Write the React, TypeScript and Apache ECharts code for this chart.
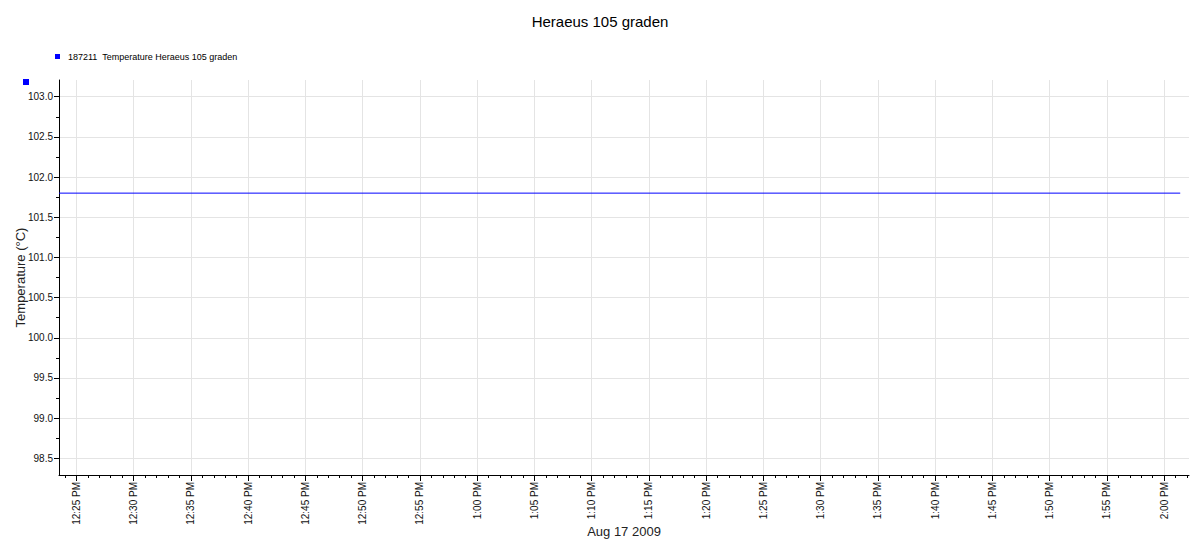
import React, { useEffect, useRef } from "react";
import * as echarts from "echarts";

// Data (time of day, PM), values in °C
const times = ["12:23:29", "14:01:24"];
const temps = [101.8, 101.8];
const seriesName = "187211  Temperature Heraeus 105 graden";

// Tick values
const xMajorLabels = ["12:25", "12:30", "12:35", "12:40", "12:45", "12:50", "12:55", "13:00", "13:05", "13:10", "13:15", "13:20", "13:25", "13:30", "13:35", "13:40", "13:45", "13:50", "13:55", "14:00"];
const yMajorTicks = [98.5, 99.0, 99.5, 100.0, 100.5, 101.0, 101.5, 102.0, 102.5, 103.0];
const yMinorTicks = [98.75, 99.25, 99.75, 100.25, 100.75, 101.25, 101.75, 102.25, 102.75];
const xAxisStart = "12:23:29";
const xAxisEnd = "14:02:10";
const yMin = 98.292;
const yMax = 103.208;

// minutes after 12:00
const toMin = (s: string) => {
  const p = s.split(":").map(Number);
  return (p[0] - 12) * 60 + p[1] + (p[2] || 0) / 60;
};
const fmt = (m: number) => {
  const total = Math.round(m);
  let h = 12 + Math.floor(total / 60);
  const mm = total % 60;
  if (h > 12) h -= 12;
  return `${h}:${mm < 10 ? "0" + mm : mm} PM`;
};

export default function App() {
  const ref = useRef<HTMLDivElement>(null);
  useEffect(() => {
    if (!ref.current) return;
    const chart = echarts.init(ref.current, null, { renderer: "svg" });
    const xMajor = xMajorLabels.map(toMin);
    const xMin = toMin(xAxisStart);
    const xMax = toMin(xAxisEnd);
    const xMinor: number[] = [];
    for (let m = Math.ceil(xMin); m <= xMax; m++) {
      if (!xMajor.includes(m)) xMinor.push(m);
    }
    const font = "'Liberation Sans', Arial, sans-serif";
    chart.setOption({
      animation: false,
      backgroundColor: "#fff",
      textStyle: { fontFamily: font },
      title: {
        text: "Heraeus 105 graden",
        left: "center",
        top: 9,
        textStyle: { fontSize: 15, fontWeight: "normal", color: "#000", fontFamily: font },
      },
      legend: {
        left: 50,
        top: 47,
        icon: "rect",
        itemWidth: 5,
        itemHeight: 5,
        itemGap: 5,
        textStyle: { fontSize: 9, color: "#000", fontFamily: font, padding: [0, 0, 0, 3] },
        data: [seriesName],
      },
      graphic: [
        { type: "rect", left: 23, top: 79, shape: { width: 6, height: 6 }, style: { fill: "#0000ff" } },
      ],
      grid: { left: 59, right: 11, top: 80, bottom: 85, containLabel: false, outerBoundsMode: "none" },
      xAxis: [
        {
          type: "value",
          min: xMin,
          max: xMax,
          name: "Aug 17 2009",
          nameLocation: "middle",
          nameGap: 50,
          nameMoveOverlap: false,
          nameTextStyle: { fontSize: 13, color: "#222", fontFamily: font },
          axisLine: { show: true, lineStyle: { color: "#000", width: 1 } },
          axisTick: { show: true, customValues: xMajor, length: 6, lineStyle: { color: "#000" } },
          axisLabel: {
            customValues: xMajor,
            rotate: 90,
            margin: 7,
            fontSize: 10,
            color: "#111",
            fontFamily: font,
            formatter: (v: number) => fmt(v),
          },
          splitLine: { show: true, lineStyle: { color: "#e4e4e4", width: 1 } },
        },
        {
          type: "value",
          position: "bottom",
          min: xMin,
          max: xMax,
          axisLine: { show: false },
          axisTick: { show: true, customValues: xMinor, length: 3, lineStyle: { color: "#000" } },
          axisLabel: { show: false },
          splitLine: { show: false },
        },
      ],
      yAxis: [
        {
          type: "value",
          min: yMin,
          max: yMax,
          name: "Temperature (°C)",
          nameLocation: "middle",
          nameGap: 32,
          nameMoveOverlap: false,
          nameTextStyle: { fontSize: 13, color: "#222", fontFamily: font },
          axisLine: { show: true, lineStyle: { color: "#000", width: 1 } },
          axisTick: { show: true, customValues: yMajorTicks, length: 5, lineStyle: { color: "#000" } },
          axisLabel: {
            customValues: yMajorTicks,
            margin: 6,
            fontSize: 10,
            color: "#111",
            fontFamily: font,
            formatter: (v: number) => v.toFixed(1),
          },
          splitLine: { show: true, lineStyle: { color: "#e4e4e4", width: 1 } },
        },
        {
          type: "value",
          position: "left",
          min: yMin,
          max: yMax,
          axisLine: { show: false },
          axisTick: { show: true, customValues: yMinorTicks, length: 3, lineStyle: { color: "#000" } },
          axisLabel: { show: false },
          splitLine: { show: false },
        },
      ],
      series: [
        {
          name: seriesName,
          type: "line",
          xAxisIndex: 0,
          yAxisIndex: 0,
          data: times.map((t, i) => [toMin(t), temps[i]]),
          showSymbol: false,
          symbol: "rect",
          itemStyle: { color: "#0000ff" },
          lineStyle: { color: "#0000ff", width: 1 },
        },
      ],
    });
    return () => chart.dispose();
  }, []);
  return (
    <div
      ref={ref}
      style={{ position: "fixed", left: 0, top: 0, width: 1200, height: 560 }}
    />
  );
}
